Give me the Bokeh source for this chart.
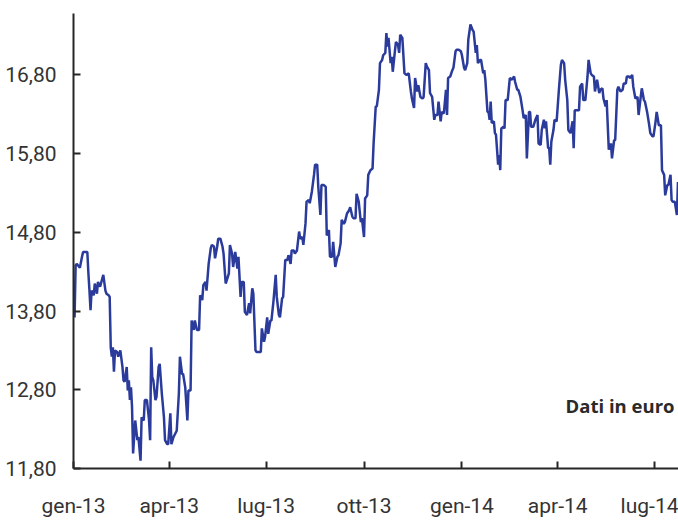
import pandas as pd
from bokeh.plotting import figure
from bokeh.models import ColumnDataSource, FixedTicker, Range1d, Label
from bokeh.embed import file_html
from bokeh.resources import INLINE

# ---- data ----
start_date = "2013-01-01"
day_offset = [
    1, 2, 3, 6, 8, 9, 13, 14, 15, 16, 17, 19, 20, 22, 23, 25, 27, 28, 30, 31, 33, 34, 35, 36, 37, 38, 39, 41, 42, 44,
    46, 47, 48, 50, 51, 52, 53, 54, 55, 56, 58, 60, 61, 63, 64, 66, 67, 69, 71, 72, 73, 74, 75, 77, 78, 80, 81, 83, 85, 86,
    88, 89, 91, 92, 94, 97, 99, 100, 102, 103, 105, 107, 108, 110, 111, 113, 114, 116, 118, 119, 121, 122, 124, 125, 127, 129, 130, 132, 133, 135,
    136, 138, 140, 141, 143, 144, 146, 147, 149, 150, 152, 154, 155, 157, 158, 160, 161, 163, 165, 166, 168, 169, 171, 172, 174, 176, 177, 179, 180, 182,
    183, 185, 186, 188, 190, 191, 193, 194, 196, 197, 199, 201, 202, 204, 205, 207, 208, 210, 212, 213, 215, 216, 218, 219, 221, 222, 224, 226, 227, 229,
    230, 232, 233, 235, 237, 238, 240, 241, 243, 244, 246, 248, 249, 251, 252, 254, 255, 257, 259, 260, 262, 263, 265, 266, 268, 270, 271, 273, 274, 276,
    277, 279, 281, 282, 284, 285, 287, 288, 290, 291, 293, 294, 295, 296, 298, 299, 300, 302, 303, 305, 306, 307, 309, 311, 313, 315, 317, 318, 320, 321,
    323, 324, 326, 328, 329, 331, 332, 334, 335, 337, 339, 340, 342, 343, 345, 346, 348, 350, 351, 352, 354, 356, 357, 359, 360, 362, 364, 365, 367, 368,
    370, 371, 373, 375, 376, 378, 379, 380, 382, 383, 385, 386, 387, 389, 390, 391, 392, 393, 395, 396, 397, 399, 400, 401, 402, 404, 405, 406, 408, 410,
    412, 414, 415, 417, 418, 420, 422, 423, 425, 426, 428, 429, 430, 432, 434, 436, 437, 439, 440, 442, 443, 444, 446, 447, 448, 449, 451, 452, 454, 456,
    458, 459, 461, 462, 464, 465, 467, 469, 470, 471, 472, 475, 476, 478, 479, 481, 483, 484, 486, 487, 489, 490, 492, 494, 495, 497, 498, 500, 501, 503,
    505, 506, 508, 509, 511, 512, 514, 516, 517, 519, 520, 522, 523, 525, 526, 528, 530, 531, 533, 534, 536, 537, 539, 541, 542, 544, 545, 547, 548, 550,
    552, 553, 555, 556, 558, 559, 561, 562, 563, 565, 567, 568,
]
price = [
    13.72, 14.38, 14.40, 14.35, 14.49, 14.55, 14.55, 14.28, 14.06, 13.81, 14.06, 14.00, 14.15, 14.02, 14.17, 14.11, 14.21, 14.26, 14.06, 14.02, 14.00, 13.98, 13.34, 13.22, 13.34, 13.03, 13.30, 13.28, 13.22, 13.30,
    13.09, 12.92, 12.90, 13.09, 12.79, 12.92, 12.67, 12.83, 12.58, 11.99, 12.41, 12.16, 12.20, 11.90, 12.45, 12.41, 12.67, 12.67, 12.41, 12.16, 13.34, 12.96, 12.92, 12.67, 12.71, 13.09, 13.13, 12.75, 12.45, 12.16,
    12.11, 12.11, 12.50, 12.11, 12.20, 12.28, 12.75, 13.22, 13.00, 13.00, 12.83, 12.41, 12.79, 12.79, 13.68, 13.56, 13.68, 13.56, 13.56, 14.00, 13.94, 14.13, 14.17, 14.06, 14.40, 14.60, 14.64, 14.62, 14.47, 14.62,
    14.72, 14.72, 14.62, 14.53, 14.15, 14.19, 14.28, 14.64, 14.53, 14.36, 14.55, 14.34, 14.49, 13.98, 14.17, 14.17, 13.79, 13.75, 13.90, 13.77, 14.09, 14.02, 13.30, 13.28, 13.28, 13.28, 13.58, 13.41, 13.47, 13.72,
    13.51, 13.68, 13.68, 13.94, 14.26, 13.98, 13.75, 13.72, 13.96, 13.98, 14.45, 14.45, 14.51, 14.40, 14.57, 14.57, 14.53, 14.57, 14.81, 14.72, 14.74, 14.64, 14.91, 15.19, 15.21, 15.17, 15.32, 15.53, 15.66, 15.66,
    15.38, 15.02, 15.40, 15.40, 15.38, 14.76, 14.83, 14.49, 14.49, 14.68, 14.36, 14.49, 14.51, 14.66, 14.96, 14.91, 14.93, 15.04, 15.08, 15.12, 15.00, 14.98, 14.98, 15.29, 15.19, 14.93, 14.98, 14.74, 15.23, 15.27,
    15.53, 15.59, 15.61, 15.93, 16.40, 16.40, 16.61, 16.95, 16.99, 17.05, 17.08, 17.33, 17.16, 17.27, 16.95, 17.03, 16.84, 17.10, 17.22, 17.18, 17.08, 17.31, 17.27, 16.82, 16.80, 16.82, 16.59, 16.50, 16.38, 16.76,
    16.59, 16.67, 16.52, 16.50, 16.52, 16.95, 16.91, 16.86, 16.57, 16.52, 16.23, 16.29, 16.29, 16.46, 16.21, 16.33, 16.31, 16.61, 16.29, 16.76, 16.78, 16.86, 16.89, 17.10, 17.12, 17.12, 17.10, 17.05, 16.89, 16.86,
    16.95, 17.25, 17.44, 17.37, 17.35, 17.08, 17.18, 16.95, 16.99, 16.99, 16.82, 16.86, 16.74, 16.33, 16.33, 16.23, 16.46, 16.19, 16.21, 16.06, 16.04, 15.66, 15.78, 15.59, 16.12, 16.14, 16.12, 16.48, 16.48, 16.76,
    16.74, 16.78, 16.71, 16.61, 16.61, 16.52, 16.35, 16.25, 16.29, 15.74, 16.33, 16.33, 16.14, 16.14, 16.23, 16.29, 15.93, 15.91, 16.10, 16.23, 16.12, 16.21, 15.87, 15.87, 15.66, 15.95, 16.10, 16.23, 16.21, 16.59,
    16.93, 16.99, 16.95, 16.74, 16.48, 16.10, 16.06, 16.21, 15.87, 16.35, 16.35, 16.35, 16.65, 16.69, 16.48, 16.48, 16.78, 16.99, 16.82, 16.80, 16.78, 16.59, 16.74, 16.57, 16.61, 16.63, 16.50, 16.40, 16.48, 15.85,
    15.93, 15.74, 15.97, 15.97, 16.61, 16.65, 16.59, 16.61, 16.69, 16.69, 16.78, 16.78, 16.76, 16.80, 16.65, 16.50, 16.52, 16.29, 16.52, 16.63, 16.48, 16.46, 16.33, 16.16, 16.06, 16.02, 16.02, 16.21, 16.33, 16.16,
    16.16, 15.59, 15.53, 15.27, 15.40, 15.40, 15.53, 15.21, 15.19, 15.19, 15.02, 15.44,
]

x_tick_dates = ["2013-01-01", "2013-04-01", "2013-07-01", "2013-10-01", "2014-01-01", "2014-04-01", "2014-07-01"]
x_tick_labels = ["gen-13", "apr-13", "lug-13", "ott-13", "gen-14", "apr-14", "lug-14"]
y_tick_values = [11.8, 12.8, 13.8, 14.8, 15.8, 16.8]
y_tick_labels = ["11,80", "12,80", "13,80", "14,80", "15,80", "16,80"]
note_text = "Dati in euro"

# ---- build ----
start = pd.Timestamp(start_date)
dates = [start + pd.Timedelta(days=d) for d in day_offset]
src = ColumnDataSource(data=dict(date=dates, price=price))

x_start = start
x_end = start + pd.Timedelta(hours=568.5 * 24)

p = figure(width=678, height=523, x_axis_type="datetime",
           x_range=Range1d(x_start, x_end), y_range=Range1d(11.8, 17.58),
           output_backend="svg", toolbar_location=None,
           min_border_left=73, min_border_right=0, min_border_top=13, min_border_bottom=55)

p.line("date", "price", source=src, line_color="#2B3B9B", line_width=2.5)

p.outline_line_color = None
p.xgrid.visible = False
p.ygrid.visible = False
p.background_fill_color = "white"
p.border_fill_color = "white"

label_font = "Roboto"
axis_color = "#262626"

x_ticks_ms = [pd.Timestamp(d).value / 1e6 for d in x_tick_dates]
p.xaxis.ticker = FixedTicker(ticks=x_ticks_ms)
p.xaxis.major_label_overrides = {t: l for t, l in zip(x_ticks_ms, x_tick_labels)}
p.yaxis.ticker = FixedTicker(ticks=y_tick_values)
p.yaxis.major_label_overrides = {t: l for t, l in zip(y_tick_values, y_tick_labels)}

for ax in (p.xaxis, p.yaxis):
    ax.axis_line_color = axis_color
    ax.axis_line_width = 2
    ax.major_tick_line_color = axis_color
    ax.major_tick_line_width = 2
    ax.major_tick_in = 7
    ax.major_tick_out = 0
    ax.minor_tick_line_color = None
    ax.major_label_text_font = label_font
    ax.major_label_text_font_size = "21px"
    ax.major_label_text_color = "#333333"

p.yaxis.major_label_standoff = 17
p.xaxis.major_label_standoff = 25

note = Label(x=x_end, y=12.6, text=note_text, text_align="right", text_baseline="middle",
             x_offset=-4, text_font="Open Sans", text_font_style="bold",
             text_font_size="18.5px", text_color="#2a2a2a")
p.add_layout(note)

open("out.html", "w").write(file_html(p, INLINE))
